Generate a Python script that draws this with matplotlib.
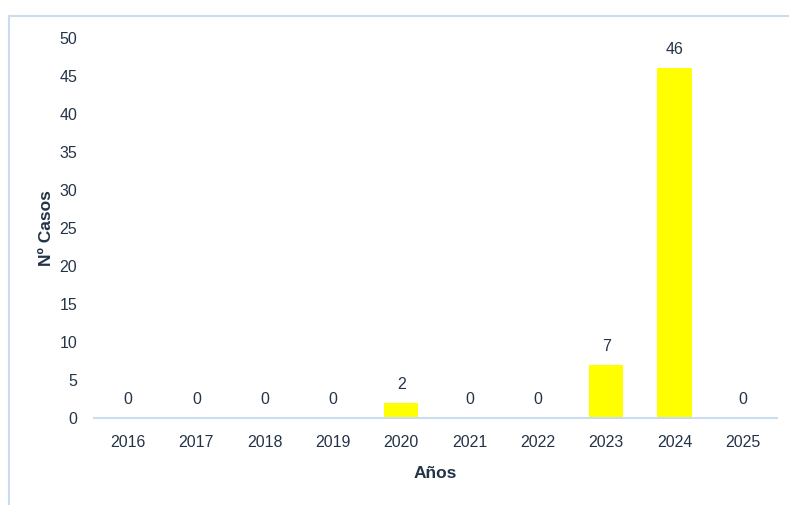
import matplotlib
matplotlib.use('Agg')
import matplotlib.pyplot as plt
from matplotlib.lines import Line2D

years = ['2016', '2017', '2018', '2019', '2020', '2021', '2022', '2023', '2024', '2025']
cases = [0, 0, 0, 0, 2, 0, 0, 7, 46, 0]
y_ticks = [0, 5, 10, 15, 20, 25, 30, 35, 40, 45, 50]

text_color = '#243447'
line_color = '#c9dcf0'

plt.rcParams['font.family'] = ['Liberation Sans', 'DejaVu Sans']

fig = plt.figure(figsize=(7.89, 5.05), dpi=100)
ax = fig.add_axes([0.1191, 0.1723, 0.8657, 0.7525])

bars = ax.bar(range(len(years)), cases, width=0.5, color='#ffff00')
ax.bar_label(bars, padding=8, fontsize=11.5, color=text_color)

ax.set_xlim(-0.5, len(years) - 0.5)
ax.set_ylim(0, 50)
ax.set_xticks(range(len(years)))
ax.set_xticklabels(years)
ax.set_yticks(y_ticks)
ax.tick_params(axis='both', length=0, labelsize=11.5, labelcolor=text_color)
ax.tick_params(axis='x', pad=12)
ax.tick_params(axis='y', pad=12)

for side in ['top', 'right', 'left']:
    ax.spines[side].set_visible(False)
ax.spines['bottom'].set_color(line_color)
ax.spines['bottom'].set_linewidth(1.5)

label_font = dict(family=['Liberation Sans Narrow', 'Liberation Sans'], fontweight='bold',
                  fontsize=12.5, color=text_color)
ax.set_xlabel('Años', labelpad=12, **label_font)
ax.set_ylabel('Nº Casos', labelpad=4, **label_font)

# light blue frame around the chart area (left and top edges visible)
fig.add_artist(Line2D([9 / 789, 9 / 789], [0, 1 - 16 / 505], transform=fig.transFigure,
                      color=line_color, linewidth=1.5))
fig.add_artist(Line2D([9 / 789, 1], [1 - 16 / 505, 1 - 16 / 505], transform=fig.transFigure,
                      color=line_color, linewidth=1.5))

fig.savefig('out.png', dpi=100)
